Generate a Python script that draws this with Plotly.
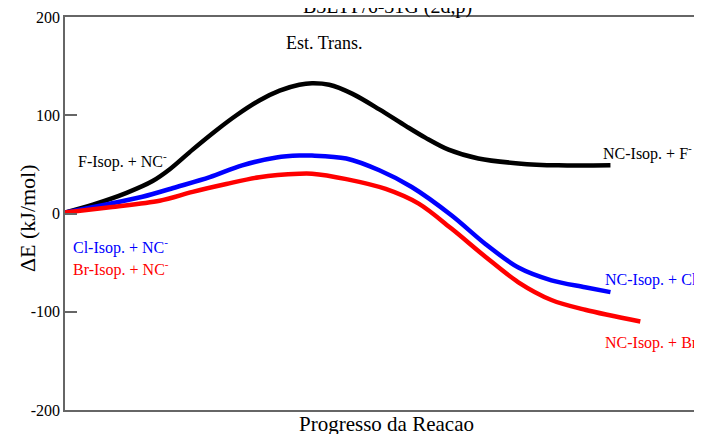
import plotly.graph_objects as go

# Reaction progress coordinate (arbitrary units, 0 = reactants)
black_x = [0, 4.4, 9.7, 13.8, 16.5, 20.1, 23.9, 27.0, 30.6, 33.8, 36.9, 38.9, 41.6, 45.2, 49.5, 53.7, 56.8, 60.4, 65.1, 71.4, 77.7, 85.9]
black_y = [1, 9, 21, 33, 45, 65, 85, 100, 115, 125, 131, 132.5, 131, 122, 106, 89, 77, 65, 56, 51, 49, 49]

blue_x = [0, 7.1, 12.2, 17.6, 22.8, 27.9, 33.3, 36.9, 38.9, 44.3, 49.5, 54.6, 60.9, 66.2, 71.4, 76.6, 81.9, 85.9]
blue_y = [1, 10, 17, 27, 37, 49, 57, 59, 59, 56, 44, 27, -2, -31, -55, -68, -75, -80]

red_x = [0, 7.1, 14.9, 20.1, 25.4, 30.6, 36.9, 38.9, 44.3, 50.5, 55.7, 60.9, 66.2, 71.4, 76.6, 81.9, 90.6]
red_y = [1, 6.4, 13, 22, 30, 37, 40.5, 40.5, 35, 25, 10, -15.6, -44, -70, -88, -98, -110]

y_ticks = [-200, -100, 0, 100, 200]
y_tick_labels = ["-200", "-100", "0", "100", "200"]
title_text = "B3LYP/6-31G (2d,p)"
x_title = "Progresso da Reacao"
y_title = "ΔE (kJ/mol)"

FONT = "Liberation Serif"
AX = "#666666"

fig = go.Figure()
for xs, ys, col in [(black_x, black_y, "black"), (blue_x, blue_y, "#0000ff"), (red_x, red_y, "#ff0000")]:
    fig.add_trace(go.Scatter(x=xs, y=ys, mode="lines",
                             line=dict(color=col, width=4.5, shape="spline", smoothing=0.9),
                             showlegend=False, hoverinfo="skip"))

labels = [
    ("Est. Trans.", 40.8, 174, "center", "black", 18),
    ("F-Isop. + NC<sup>-</sup>", 1.8, 54, "left", "black", 16),
    ("Cl-Isop. + NC<sup>-</sup>", 1.0, -34, "left", "#0000ff", 16),
    ("Br-Isop. + NC<sup>-</sup>", 1.0, -56, "left", "#ff0000", 16),
    ("NC-Isop. + F<sup>-</sup>", 84.4, 62, "left", "black", 16),
    ("NC-Isop. + Cl<sup>-</sup>", 84.8, -66, "left", "#0000ff", 16),
    ("NC-Isop. + Br<sup>-</sup>", 84.7, -130, "left", "#ff0000", 16),
]
for txt, x, y, anc, col, sz in labels:
    fig.add_annotation(text=txt, x=x, y=y, xref="x", yref="y", xanchor=anc, yanchor="middle",
                       showarrow=False, font=dict(family=FONT, size=sz, color=col))

fig.add_annotation(text=title_text, x=50.8, y=0.992, xref="x", yref="paper",
                   xanchor="center", yanchor="bottom", showarrow=False,
                   font=dict(family=FONT, size=20, color="black"))

fig.add_annotation(text=y_title, x=-0.0590, y=0.4885, xref="paper", yref="paper",
                   xanchor="center", yanchor="middle", textangle=-90, showarrow=False,
                   font=dict(family=FONT, size=22, color="black"))

fig.update_layout(
    width=702, height=434,
    margin=dict(l=57, r=0, t=9, b=32),
    plot_bgcolor="white", paper_bgcolor="white",
    font=dict(family=FONT, color="black"),
    xaxis=dict(range=[0, 101.26], showgrid=False, zeroline=False, showticklabels=False,
               ticks="", showline=True, linecolor=AX, linewidth=1.5, mirror=True,
               title=dict(text=x_title, font=dict(family=FONT, size=21), standoff=6)),
    yaxis=dict(range=[-200, 200], tickvals=y_ticks, ticktext=y_tick_labels,
               showgrid=False, zeroline=False,
               ticks="inside", ticklen=12, tickwidth=1.5, tickcolor=AX,
               showline=True, linecolor=AX, linewidth=1.5, mirror="ticks",
               tickfont=dict(family=FONT, size=16, color="black")),
)

fig.write_html("out.html")
